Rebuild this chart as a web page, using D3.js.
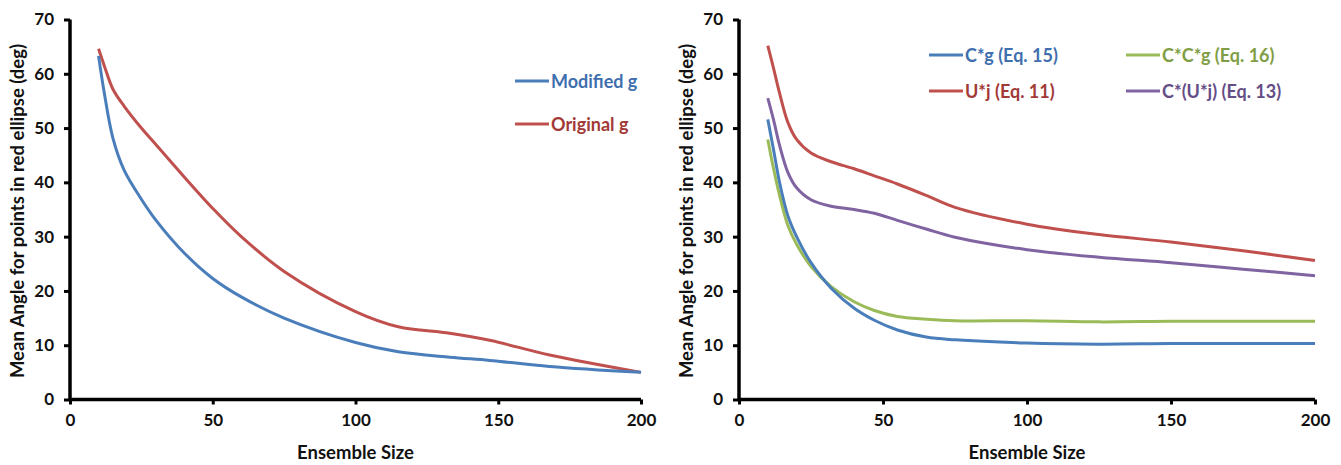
<!DOCTYPE html>
<html>
<head>
<meta charset="utf-8">
<script src="https://cdn.jsdelivr.net/npm/d3@7"></script>
<style>
  body { margin: 0; background: #fff; }
  svg text { font-family: Lato, "Open Sans", sans-serif; font-weight: bold; }
</style>
</head>
<body>
<svg id="chart" width="1341" height="465"></svg>
<script>
// data
const xTicks = [0, 50, 100, 150, 200];
const yTicks = [0, 10, 20, 30, 40, 50, 60, 70];

const leftX = [10, 12, 15, 19, 25, 30, 40, 50, 60, 75, 100, 115, 133, 147, 168, 200];
const modifiedG = [63.3, 56.5, 48.2, 42.2, 36.9, 33.1, 27.0, 22.3, 18.9, 15.0, 10.5, 8.8, 7.8, 7.2, 6.1, 5.0];
const originalG = [64.6, 61.5, 57.2, 54.0, 50.0, 47.0, 41.0, 35.2, 30.0, 23.6, 16.2, 13.4, 12.2, 10.9, 8.2, 5.0];

const rightX = [10, 12, 14, 17, 20, 25, 32, 40, 47, 55, 65, 75, 100, 125, 150, 175, 200];
const cg = [51.6, 46.0, 40.2, 33.8, 30.0, 25.2, 20.5, 16.8, 14.6, 12.8, 11.5, 11.0, 10.4, 10.2, 10.3, 10.3, 10.3];
const ccg = [47.9, 42.5, 37.8, 32.0, 28.6, 24.5, 20.8, 18.0, 16.4, 15.3, 14.8, 14.5, 14.5, 14.3, 14.4, 14.4, 14.4];
const uj = [65.2, 61.0, 56.6, 51.0, 47.9, 45.4, 43.8, 42.5, 41.2, 39.7, 37.6, 35.4, 32.3, 30.4, 29.0, 27.4, 25.6];
const cuj = [55.5, 51.5, 47.0, 41.8, 39.0, 36.8, 35.6, 35.0, 34.3, 33.0, 31.4, 29.9, 27.6, 26.2, 25.2, 24.0, 22.8];

const blue = "#4a7ebb", red = "#c0504d", green = "#9bbb59", purple = "#8064a2";

const svg = d3.select("#chart");
const yTitle = "Mean Angle for points in red ellipse (deg)";

function panel(x0, x1, xs, series, legend) {
  const x = d3.scaleLinear().domain([0, 200]).range([x0, x1]);
  const y = d3.scaleLinear().domain([0, 70]).range([399.5, 19.5]);
  const g = svg.append("g");

  const xAxis = g.append("g").attr("transform", "translate(0,399.5)")
    .call(d3.axisBottom(x).tickValues(xTicks).tickSize(5).tickPadding(9));
  const yAxis = g.append("g").attr("transform", `translate(${x0},0)`)
    .call(d3.axisLeft(y).tickValues(yTicks).tickSize(6).tickPadding(10));
  [xAxis, yAxis].forEach(a => {
    a.select(".domain").attr("stroke", "#000").attr("stroke-width", 3.5);
    a.selectAll(".tick line").attr("stroke", "#000").attr("stroke-width", 3);
    a.selectAll(".tick text").attr("font-size", 17).attr("fill", "#111");
  });
  xAxis.select(".domain").attr("d", `M${x0},0H${x1}`);
  yAxis.select(".domain").attr("d", `M0,${y(70)}V${y(0)}`);

  const line = d3.line().x((d, i) => x(xs[i])).y(d => y(d)).curve(d3.curveCatmullRom.alpha(0.5));
  series.forEach(s => {
    g.append("path").datum(s.values)
      .attr("fill", "none").attr("stroke", s.color).attr("stroke-width", 3)
      .attr("d", line);
  });

  legend.forEach(l => {
    g.append("line").attr("x1", l.x).attr("x2", l.x + 34).attr("y1", l.y).attr("y2", l.y)
      .attr("stroke", l.color).attr("stroke-width", 3);
    g.append("text").attr("x", l.x + 36).attr("y", l.y + 6.5)
      .attr("font-size", 18).attr("fill", l.text).text(l.label);
  });

  g.append("text").attr("x", (x0 + x1) / 2).attr("y", 459).attr("text-anchor", "middle")
    .attr("font-size", 18.5).attr("fill", "#111").text("Ensemble Size");
  g.append("text").attr("transform", `translate(${x0 - 46},${211}) rotate(-90)`)
    .attr("text-anchor", "middle").attr("font-size", 18.5).attr("fill", "#111").text(yTitle);
}

panel(70, 641, leftX,
  [{ values: originalG, color: red }, { values: modifiedG, color: blue }],
  [{ x: 515, y: 81, color: blue, text: "#3f6fae", label: "Modified g" },
   { x: 515, y: 124, color: red, text: "#a23a37", label: "Original g" }]);

panel(739, 1315, rightX,
  [{ values: uj, color: red }, { values: cuj, color: purple },
   { values: ccg, color: green }, { values: cg, color: blue }],
  [{ x: 929, y: 55, color: blue, text: "#3f6fae", label: "C*g (Eq. 15)" },
   { x: 1126, y: 55, color: green, text: "#7f9e45", label: "C*C*g (Eq. 16)" },
   { x: 929, y: 91, color: red, text: "#a23a37", label: "U*j (Eq. 11)" },
   { x: 1126, y: 91, color: purple, text: "#654d86", label: "C*(U*j) (Eq. 13)" }]);
</script>
</body>
</html>
